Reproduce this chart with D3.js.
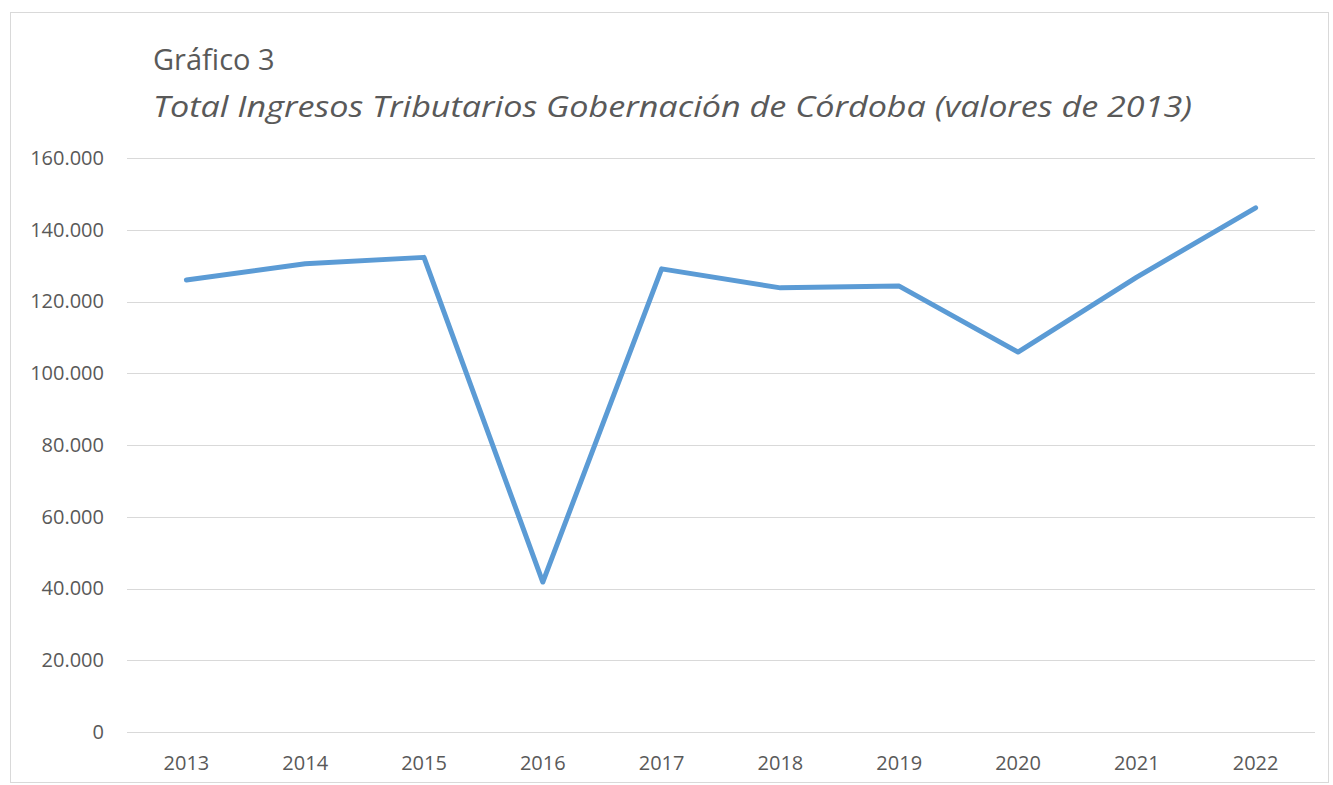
<!DOCTYPE html>
<html>
<head>
	<meta charset="utf-8">
	<title>Gráfico 3</title>
	<script src="https://d3js.org/d3.v7.min.js"></script>
	<style>
		body { margin: 0; background: #fff; }
		text { font-family: "Open Sans", "Liberation Sans", sans-serif; }
	</style>
</head>
<body>
<section id="container"></section>
<script>
//Data
var years = ["2013","2014","2015","2016","2017","2018","2019","2020","2021","2022"];
var ingresos = [126000, 130500, 132300, 41800, 129100, 123800, 124300, 105900, 126800, 146100];
var yTicks = [0, 20000, 40000, 60000, 80000, 100000, 120000, 140000, 160000];

var width = 1333, height = 785;

var svg = d3.select("#container")
	.append("svg")
	.attr("width", width)
	.attr("height", height);

//Outer frame
svg.append("rect")
	.attr("x", 10.5)
	.attr("y", 12.5)
	.attr("width", 1318)
	.attr("height", 770)
	.attr("fill", "#fff")
	.attr("stroke", "#d9d9d9");

var x = d3.scaleBand()
	.domain(years)
	.range([127, 1315]);

var y = d3.scaleLinear()
	.domain([0, 160000])
	.range([732, 158]);

var fmt = function(d) {
	return d3.format(",")(d).replace(/,/g, ".");
};

//Gridlines
svg.append("g")
	.selectAll("line")
	.data(yTicks)
	.enter().append("line")
	.attr("x1", 127)
	.attr("x2", 1315)
	.attr("y1", function(d) { return Math.round(y(d)) + 0.5; })
	.attr("y2", function(d) { return Math.round(y(d)) + 0.5; })
	.attr("stroke", "#d9d9d9")
	.attr("stroke-width", 1);

//Y axis labels
var yAxis = d3.axisLeft(y)
	.tickValues(yTicks)
	.tickFormat(fmt)
	.tickSize(0)
	.tickPadding(0);

var gy = svg.append("g")
	.attr("transform", "translate(104,0)")
	.call(yAxis);
gy.select(".domain").remove();
gy.selectAll("text")
	.attr("fill", "#595959")
	.style("font-size", "20px");

//X axis labels
var xAxis = d3.axisBottom(x)
	.tickSize(0)
	.tickPadding(0);

var gx = svg.append("g")
	.attr("transform", "translate(0,756)")
	.call(xAxis);
gx.select(".domain").remove();
gx.selectAll("text")
	.attr("fill", "#595959")
	.style("font-size", "20px");

//Line
var line = d3.line()
	.x(function(d, i) { return x(years[i]) + x.bandwidth() / 2; })
	.y(function(d) { return y(d); });

svg.append("path")
	.datum(ingresos)
	.attr("d", line)
	.attr("fill", "none")
	.attr("stroke", "#5b9bd5")
	.attr("stroke-width", 5)
	.attr("stroke-linejoin", "round")
	.attr("stroke-linecap", "round");

//Titles
svg.append("text")
	.attr("x", 153)
	.attr("y", 70)
	.attr("fill", "#595959")
	.style("font-size", "29px")
	.text("Gráfico 3");

svg.append("text")
	.attr("x", 153)
	.attr("y", 117)
	.attr("fill", "#595959")
	.style("font-size", "29px")
	.style("font-style", "italic")
	.attr("textLength", 1039)
	.attr("lengthAdjust", "spacingAndGlyphs")
	.text("Total Ingresos Tributarios Gobernación de Córdoba (valores de 2013)");
</script>
</body>
</html>
